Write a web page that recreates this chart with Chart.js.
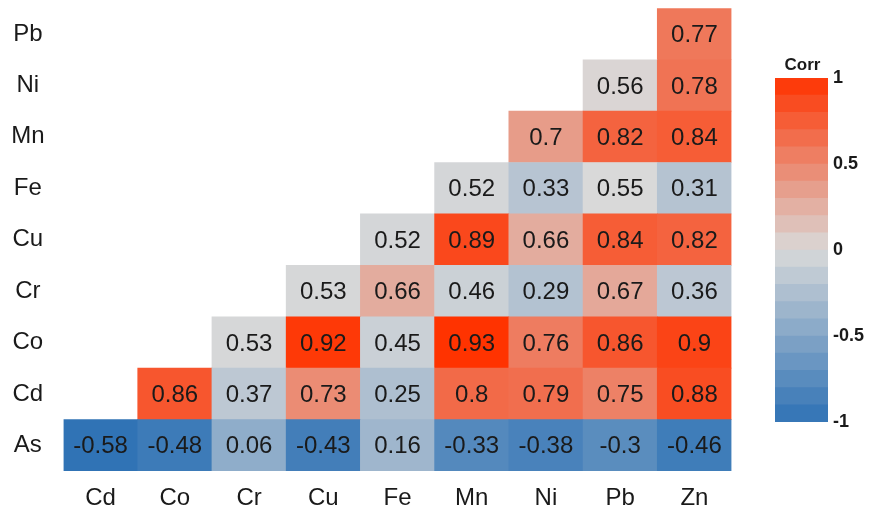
<!DOCTYPE html>
<html>
<head>
<meta charset="utf-8">
<script src="https://cdn.jsdelivr.net/npm/chart.js@4.4.1/dist/chart.umd.min.js"></script>
<style>
  html, body { margin: 0; padding: 0; background: #ffffff; }
  #wrap { position: relative; width: 869px; height: 509px; overflow: hidden; }
  #heat { position: absolute; left: 0; top: 0; }
  #scaleBar { position: absolute; left: 760px; top: 50px; }
</style>
</head>
<body>
<div id="wrap">
  <canvas id="heat" width="869" height="509"></canvas>
  <canvas id="scaleBar" width="109" height="400"></canvas>
</div>
<script>
// Element names along each axis
const columns = ['Cd', 'Co', 'Cr', 'Cu', 'Fe', 'Mn', 'Ni', 'Pb', 'Zn'];
const rows = ['As', 'Cd', 'Co', 'Cr', 'Cu', 'Fe', 'Mn', 'Ni', 'Pb'];

// Correlation coefficients, one array per row (bottom row first), null = empty cell
const corrAs = [-0.58, -0.48, 0.06, -0.43, 0.16, -0.33, -0.38, -0.3, -0.46];
const corrCd = [null, 0.86, 0.37, 0.73, 0.25, 0.8, 0.79, 0.75, 0.88];
const corrCo = [null, null, 0.53, 0.92, 0.45, 0.93, 0.76, 0.86, 0.9];
const corrCr = [null, null, null, 0.53, 0.66, 0.46, 0.29, 0.67, 0.36];
const corrCu = [null, null, null, null, 0.52, 0.89, 0.66, 0.84, 0.82];
const corrFe = [null, null, null, null, null, 0.52, 0.33, 0.55, 0.31];
const corrMn = [null, null, null, null, null, null, 0.7, 0.82, 0.84];
const corrNi = [null, null, null, null, null, null, null, 0.56, 0.78];
const corrPb = [null, null, null, null, null, null, null, null, 0.77];

const matrix = [corrAs, corrCd, corrCo, corrCr, corrCu, corrFe, corrMn, corrNi, corrPb];

// Colour-bar breaks
const legendTicks = [-1, -0.5, 0, 0.5, 1];

// Fill scale: coefficient -> position on the colour bar (-1..1)
const fillStops = [
  [-0.58, -0.99], [-0.48, -0.91], [-0.43, -0.88], [-0.38, -0.84], [-0.3, -0.74],
  [0.06, -0.43], [0.16, -0.34], [0.25, -0.25], [0.33, -0.2], [0.45, -0.09],
  [0.55, 0.0], [0.66, 0.27], [0.7, 0.37], [0.75, 0.53], [0.8, 0.67],
  [0.86, 0.79], [0.9, 0.9], [0.93, 1.0]
];

const LOW = [46, 114, 181];
const MID = [217, 217, 217];
const HIGH = [255, 51, 0];

function gradient(p) {
  const t = Math.min(1, Math.abs(p));
  const end = p < 0 ? LOW : HIGH;
  const c = MID.map((m, i) => Math.round(m + (end[i] - m) * t));
  return `rgb(${c[0]},${c[1]},${c[2]})`;
}

function fillPosition(v) {
  if (v <= fillStops[0][0]) return fillStops[0][1];
  for (let i = 1; i < fillStops.length; i++) {
    const [x1, y1] = fillStops[i];
    if (v <= x1) {
      const [x0, y0] = fillStops[i - 1];
      return y0 + (y1 - y0) * (v - x0) / (x1 - x0);
    }
  }
  return fillStops[fillStops.length - 1][1];
}

const FONT = '"Liberation Sans", Arial, Helvetica, sans-serif';
Chart.defaults.font.family = FONT;
const TEXT = '#1a1a1a';

// Writes each coefficient in the middle of its tile
const cellLabels = {
  id: 'cellLabels',
  afterDatasetsDraw(chart) {
    const ctx = chart.ctx;
    ctx.save();
    ctx.font = '24px ' + FONT;
    ctx.fillStyle = TEXT;
    ctx.textAlign = 'center';
    ctx.textBaseline = 'middle';
    matrix.forEach((vals, r) => {
      const meta = chart.getDatasetMeta(r);
      vals.forEach((v, c) => {
        if (v === null) return;
        const el = meta.data[c];
        const { x, y, base } = el.getProps(['x', 'y', 'base'], true);
        ctx.fillText(String(v), x, (y + base) / 2 + 1.5);
      });
    });
    ctx.restore();
  }
};

function noEdgePadding(s) {
  s.paddingTop = 0;
  s.paddingBottom = 0;
  s.paddingLeft = 0;
  s.paddingRight = 0;
}

new Chart(document.getElementById('heat'), {
  type: 'bar',
  data: {
    labels: columns,
    datasets: matrix.map((vals, r) => ({
      label: rows[r],
      data: vals.map(v => (v === null ? null : [r - 0.5, r + 0.5])),
      backgroundColor: vals.map(v => (v === null ? 'rgba(0,0,0,0)' : gradient(fillPosition(v)))),
      borderWidth: 0,
      grouped: false,
      barPercentage: 1,
      categoryPercentage: 1
    }))
  },
  options: {
    responsive: false,
    animation: false,
    events: [],
    layout: { padding: { top: 8.3, right: 137.5, left: 0, bottom: 0 } },
    plugins: { legend: { display: false }, tooltip: { enabled: false } },
    scales: {
      x: {
        grid: { display: false, drawTicks: false },
        border: { display: false },
        ticks: { font: { size: 24 }, color: TEXT, padding: 13, maxRotation: 0, autoSkip: false },
        afterFit: s => { s.height = 38; noEdgePadding(s); }
      },
      y: {
        min: -0.5,
        max: 8.5,
        grid: { display: false, drawTicks: false },
        border: { display: false },
        afterBuildTicks: s => { s.ticks = rows.map((_, i) => ({ value: i })); },
        ticks: {
          font: { size: 24 },
          color: TEXT,
          crossAlign: 'center',
          padding: 19,
          callback: v => rows[v]
        },
        afterFit: s => { s.width = 63.5; noEdgePadding(s); }
      }
    }
  },
  plugins: [cellLabels]
});

// Colour bar: 20 bands spanning -1..1
const bandCount = 20;
const bands = [];
for (let i = 0; i < bandCount; i++) {
  const lo = -1 + (2 * i) / bandCount;
  const hi = -1 + (2 * (i + 1)) / bandCount;
  bands.push({ lo, hi, colour: gradient((lo + hi) / 2) });
}

const barTitle = {
  id: 'barTitle',
  afterDraw(chart) {
    const { ctx, chartArea } = chart;
    ctx.save();
    ctx.font = 'bold 17px ' + FONT;
    ctx.fillStyle = TEXT;
    ctx.textAlign = 'center';
    ctx.textBaseline = 'middle';
    ctx.fillText('Corr', (chartArea.left + chartArea.right) / 2 + 1, 15.5);
    ctx.restore();
  }
};

new Chart(document.getElementById('scaleBar'), {
  type: 'bar',
  data: {
    labels: ['Corr'],
    datasets: bands.map(b => ({
      data: [[b.lo, b.hi]],
      backgroundColor: b.colour,
      borderWidth: 0,
      grouped: false,
      barPercentage: 1,
      categoryPercentage: 1
    }))
  },
  options: {
    responsive: false,
    animation: false,
    events: [],
    layout: { padding: { top: 28, left: 15, right: 0, bottom: 28 } },
    plugins: { legend: { display: false }, tooltip: { enabled: false } },
    scales: {
      x: { display: false },
      y: {
        position: 'right',
        min: -1,
        max: 1,
        grid: { display: false, drawTicks: false },
        border: { display: false },
        afterBuildTicks: s => { s.ticks = legendTicks.map(v => ({ value: v })); },
        ticks: { font: { size: 18, weight: 'bold' }, color: TEXT, padding: 5, callback: v => String(v) },
        afterFit: s => { s.width = 41; noEdgePadding(s); }
      }
    }
  },
  plugins: [barTitle]
});
</script>
</body>
</html>
